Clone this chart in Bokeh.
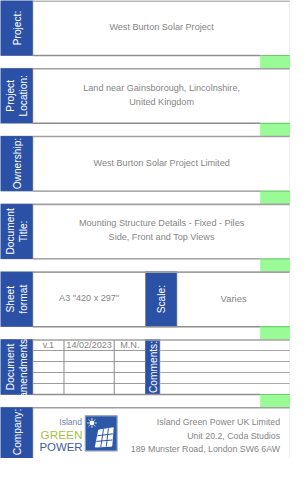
import numpy as np
from bokeh.plotting import figure
from bokeh.models import Range1d
from bokeh.core.properties import value
from bokeh.embed import file_html
from bokeh.resources import INLINE

# ---------------- content ----------------
section_labels = ["Project:", "Project\nLocation:", "Ownership:", "Document\nTitle:",
                  "Sheet\nformat", "Document\namendments:", "Company:"]
section_values = ["West Burton Solar Project",
                  "Land near Gainsborough, Lincolnshire,\nUnited Kingdom",
                  "West Burton Solar Project Limited",
                  "Mounting Structure Details - Fixed - Piles\nSide, Front and Top Views",
                  'A3 "420 x 297"', "", ""]
scale_label = "Scale:"
scale_value = "Varies"
comments_label = "Comments:"
amend_version = ["v.1", "", "", "", ""]
amend_date = ["14/02/2023", "", "", "", ""]
amend_author = ["M.N.", "", "", "", ""]
company_lines = ["Island Green Power UK Limited", "Unit 20.2, Coda Studios",
                 "189 Munster Road, London SW6 6AW"]
logo_words = ["Island", "GREEN", "POWER"]

# ---------------- geometry (reference pixels) ----------------
W0, H0 = 306, 483
S = 290 / W0
row_top = [0, 71.5, 143, 214.5, 286, 357.5, 429]
row_h = 58
LBL_W = 34
BLUE = "#2B51A6"
GREEN = "#9AFA96"
GRAY_TXT = "#858585"
LINE = "#A0A0A0"
FONT = value("Liberation Sans")

def fs(v):
    return f"{v * S:.1f}px"

p = figure(width=290, height=int(round(H0 * S)), x_range=Range1d(0, W0), y_range=Range1d(H0, 0),
           output_backend="svg", toolbar_location=None, min_border=0,
           x_axis_location=None, y_axis_location=None)
p.grid.visible = False
p.outline_line_color = None
p.background_fill_color = "white"
p.border_fill_color = "white"

tops = np.array(row_top)
bots = np.minimum(tops + row_h, H0)

# green strips in gaps
gt = bots[:-1]
gb = tops[1:]
p.quad(left=274, right=W0, top=gt, bottom=gb, fill_color=GREEN, line_color=None)

# blue label strips
p.quad(left=0, right=LBL_W, top=tops, bottom=bots, fill_color=BLUE, line_color="#4A5F8E", line_width=0.8)
sr = 4
p.quad(left=[153], right=[186], top=[tops[sr]], bottom=[bots[sr]], fill_color=BLUE, line_color="#4A5F8E", line_width=0.8)
ar = 5
p.quad(left=[153], right=[168], top=[tops[ar]], bottom=[bots[ar]], fill_color=BLUE, line_color="#4A5F8E", line_width=0.8)

# section label texts (rotated)
lbl_y = (tops + bots) / 2
lbl_y[-1] = 455
p.text(x=[LBL_W / 2 + 0.5] * len(section_labels), y=list(lbl_y),
       text=section_labels, angle=np.pi / 2, text_align="center", text_baseline="middle",
       text_color="white", text_font=FONT, text_font_size=fs(10.8), text_line_height=1.2)
p.text(x=[170], y=[(tops[sr] + bots[sr]) / 2], text=[scale_label], angle=np.pi / 2,
       text_align="center", text_baseline="middle", text_color="white", text_font=FONT, text_font_size=fs(10.8))
p.text(x=[161], y=[(tops[ar] + bots[ar]) / 2], text=[comments_label], angle=np.pi / 2,
       text_align="center", text_baseline="middle", text_color="white", text_font=FONT, text_font_size=fs(10.8))

# white covers to clip overflowing label text in gaps
p.quad(left=0, right=LBL_W + 1, top=gt + 0.6, bottom=gb - 0.6, fill_color="white", line_color=None)

# value texts
val_x = [(LBL_W + W0) / 2] * 4 + [(LBL_W + 153) / 2]
val_y = list((tops[:5] + bots[:5]) / 2 - 1)
p.text(x=val_x, y=val_y, text=section_values[:5], text_align="center", text_baseline="middle",
       text_color=GRAY_TXT, text_font=FONT, text_font_size=fs(9.6), text_line_height=1.4)
p.text(x=[(186 + W0) / 2], y=[(tops[sr] + bots[sr]) / 2 - 1], text=[scale_value], text_align="center",
       text_baseline="middle", text_color=GRAY_TXT, text_font=FONT, text_font_size=fs(10))

# amendments table
col_x = [LBL_W, 67, 120, 153]
row_lines = np.linspace(tops[ar], bots[ar], 6)
rc = (row_lines[:-1] + row_lines[1:]) / 2
for ci, col in enumerate([amend_version, amend_date, amend_author]):
    p.text(x=[(col_x[ci] + col_x[ci + 1]) / 2] * len(col), y=list(rc + 0.5), text=col,
           text_align="center", text_baseline="middle", text_color=GRAY_TXT, text_font=FONT,
           text_font_size=fs(9.6))
inner = row_lines[1:-1]
p.segment(x0=[LBL_W] * len(inner), x1=[153] * len(inner), y0=inner, y1=inner, line_color="#9A9A9A", line_width=1)
p.segment(x0=[168] * len(inner), x1=[W0] * len(inner), y0=inner, y1=inner, line_color="#A8A8A8", line_width=1)
p.segment(x0=[67, 120], x1=[67, 120], y0=[tops[ar]] * 2, y1=[bots[ar]] * 2, line_color="#8A8A8A", line_width=1)

# sheet row divider
p.segment(x0=[153], x1=[153], y0=[tops[sr]], y1=[bots[sr]], line_color="#8A8A8A", line_width=1)

# row border lines
p.segment(x0=[LBL_W] * 7, x1=[W0] * 7, y0=tops + 0.5, y1=tops + 0.5, line_color=LINE, line_width=1.6)
p.segment(x0=[LBL_W] * 6, x1=[274] * 6, y0=bots[:6], y1=bots[:6], line_color="#8E8E8E", line_width=1.4)
p.segment(x0=[274] * 6, x1=[W0] * 6, y0=bots[:6], y1=bots[:6], line_color="#6FCF6C", line_width=1.2)
p.segment(x0=[W0 - 0.5] * 7, x1=[W0 - 0.5] * 7, y0=tops, y1=bots, line_color="#E2E2E2", line_width=1)

# company address
p.text(x=[295] * 3, y=[445, 459, 473], text=company_lines, text_align="right", text_baseline="middle",
       text_color=GRAY_TXT, text_font=FONT, text_font_size=fs(9.3))

# logo
p.text(x=[86], y=[445], text=[logo_words[0]], text_align="right", text_baseline="middle",
       text_color="#7083AA", text_font=FONT, text_font_size=fs(9))
p.text(x=[86.5], y=[458], text=[logo_words[1]], text_align="right", text_baseline="middle",
       text_color="#A6C441", text_font=FONT, text_font_size=fs(12.5))
p.text(x=[86.5], y=[470.5], text=[logo_words[2]], text_align="right", text_baseline="middle",
       text_color="#3E5D9F", text_font=FONT, text_font_size=fs(12))
p.quad(left=[89.5], right=[123], top=[438], bottom=[475], fill_color="#2C57A6", line_color="#8C9CBF", line_width=1.2)
# sun
p.circle(x=[96.5], y=[445.5], radius=2.6, fill_color="white", line_color=None)
ang = np.linspace(0, 2 * np.pi, 9)[:-1]
p.segment(x0=96.5 + 3.4 * np.cos(ang), y0=445.5 + 3.4 * np.sin(ang),
          x1=96.5 + 5.0 * np.cos(ang), y1=445.5 + 5.0 * np.sin(ang), line_color="white", line_width=1)
# solar panel
c = np.array([[103.5, 453.0], [119.0, 450.5], [117.5, 470.0], [100.0, 471.0]])
p.patch(x=c[:, 0], y=c[:, 1], fill_color="white", line_color="white", line_width=0.8)
for t in [1 / 3, 2 / 3]:
    a = c[0] + (c[1] - c[0]) * t
    b = c[3] + (c[2] - c[3]) * t
    p.segment(x0=[a[0]], y0=[a[1]], x1=[b[0]], y1=[b[1]], line_color="#2C57A6", line_width=1)
    a = c[0] + (c[3] - c[0]) * t
    b = c[1] + (c[2] - c[1]) * t
    p.segment(x0=[a[0]], y0=[a[1]], x1=[b[0]], y1=[b[1]], line_color="#2C57A6", line_width=1)

open("out.html", "w").write(file_html(p, INLINE))
